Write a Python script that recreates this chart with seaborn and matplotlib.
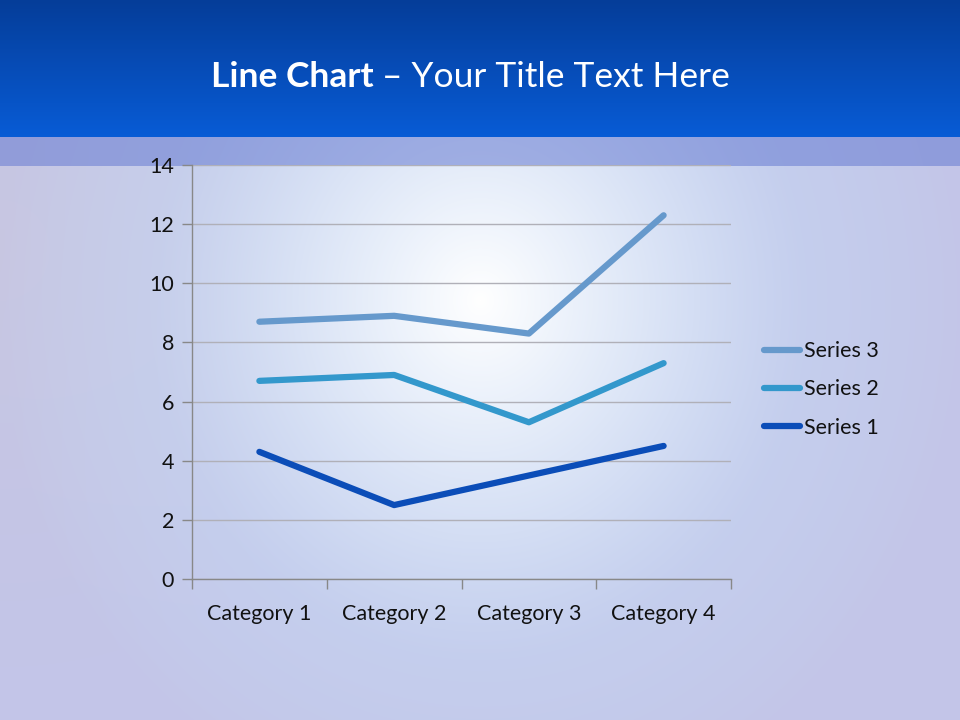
import numpy as np
import pandas as pd
import matplotlib
matplotlib.use("Agg")
import matplotlib.pyplot as plt
import seaborn as sns

categories = ["Category 1", "Category 2", "Category 3", "Category 4"]
series_1 = [4.3, 2.5, 3.5, 4.5]
series_2 = [6.7, 6.9, 5.3, 7.3]
series_3 = [8.7, 8.9, 8.3, 12.3]
series_names = ["Series 1", "Series 2", "Series 3"]
y_ticks = [0, 2, 4, 6, 8, 10, 12, 14]

colors = {"Series 1": "#0B4DB8", "Series 2": "#3398CC", "Series 3": "#6699CC"}

df = pd.DataFrame({
    "pos": list(range(len(categories))) * 3,
    "value": series_1 + series_2 + series_3,
    "series": [s for s in series_names for _ in categories],
})

sns.set_theme(style="white")
plt.rcParams["font.family"] = ["Lato", "DejaVu Sans"]

W, H = 960, 720
fig = plt.figure(figsize=(9.6, 7.2), dpi=100)

# slide background
yy, xx = np.mgrid[0:H, 0:W].astype(float)
img = np.ones((H, W, 3)) * np.array([0.765, 0.775, 0.91])
tint = np.clip(1 - np.hypot(xx, yy - 250) / 420, 0, 1)[..., None]
img = img * (1 - 0.5 * tint) + np.array([0.80, 0.78, 0.86]) * 0.5 * tint
d = np.hypot(xx - 480, (yy - 300) / 1.1)
mid = (np.clip(1 - d / 480, 0, 1) ** 0.8)[..., None]
img = img * (1 - 0.85 * mid) + np.array([0.78, 0.87, 0.97]) * 0.85 * mid
g = (np.clip(1 - d / 330, 0, 1) ** 1.3)[..., None]
img = img * (1 - g) + g
band = (yy >= 137) & (yy < 166)
img[band] = img[band] * 0.45 + np.array([0.40, 0.48, 0.82]) * 0.55
hdr = yy < 137
t = (yy / 137.0)[..., None]
hcol = np.array([0.02, 0.24, 0.60]) * (1 - t) + np.array([0.03, 0.36, 0.84]) * t
img[hdr] = hcol[hdr]

bg = fig.add_axes([0, 0, 1, 1], zorder=-10)
bg.imshow(img, aspect="auto", extent=[0, W, H, 0])
bg.set_axis_off()

# title: bold part + regular part
t1 = fig.text(211 / W, 1 - 77 / H, "Line Chart", color="white", fontsize=25.5,
              fontweight="bold", ha="left", va="center")
fig.canvas.draw()
bb = t1.get_window_extent()
fig.text((bb.x1 + 8) / W, 1 - 77 / H, "\u2013 Your Title Text Here", color="white",
         fontsize=25.5, ha="left", va="center")

ax = fig.add_axes([192 / W, 1 - 579 / H, (731 - 192) / W, (579 - 165) / H])
ax.patch.set_alpha(0)
sns.lineplot(data=df, x="pos", y="value", hue="series", palette=colors,
             linewidth=4.5, ax=ax, solid_capstyle="round", legend=True)

ax.set_xlim(-0.5, len(categories) - 0.5)
ax.set_ylim(0, 14)
ax.set_yticks(y_ticks)
ax.set_yticklabels([str(v) for v in y_ticks], fontsize=15.5)
ax.set_xticks(range(len(categories)))
ax.set_xticklabels(categories, fontsize=15.5)
ax.set_xticks(np.arange(-0.5, len(categories)), minor=True)
ax.tick_params(axis="x", which="major", bottom=True, length=0, pad=18, labelcolor="#111111")
ax.tick_params(axis="x", which="minor", bottom=True, length=7, color="#888888", width=1)
ax.tick_params(axis="y", left=True, length=7, color="#888888", width=1, pad=6,
               labelcolor="#111111")
ax.grid(axis="y", color="#B0B0B8", linewidth=1)
ax.set_axisbelow(True)
for s in ["top", "right"]:
    ax.spines[s].set_visible(False)
for s in ["left", "bottom"]:
    ax.spines[s].set_color("#888888")
    ax.spines[s].set_linewidth(1)
ax.set_xlabel("")
ax.set_ylabel("")

handles, labels = ax.get_legend_handles_labels()
order = [labels.index(n) for n in ["Series 3", "Series 2", "Series 1"]]
leg = ax.legend([handles[i] for i in order], [labels[i] for i in order],
                loc="center left", bbox_to_anchor=(1.025, 0.458), frameon=False,
                fontsize=15.5, handlelength=1.7, handletextpad=0.15, labelspacing=0.85)
for h in leg.legend_handles:
    h.set_linewidth(4.5)
    h.set_solid_capstyle("round")
for txt in leg.get_texts():
    txt.set_color("#111111")

fig.savefig("out.png", dpi=100)
